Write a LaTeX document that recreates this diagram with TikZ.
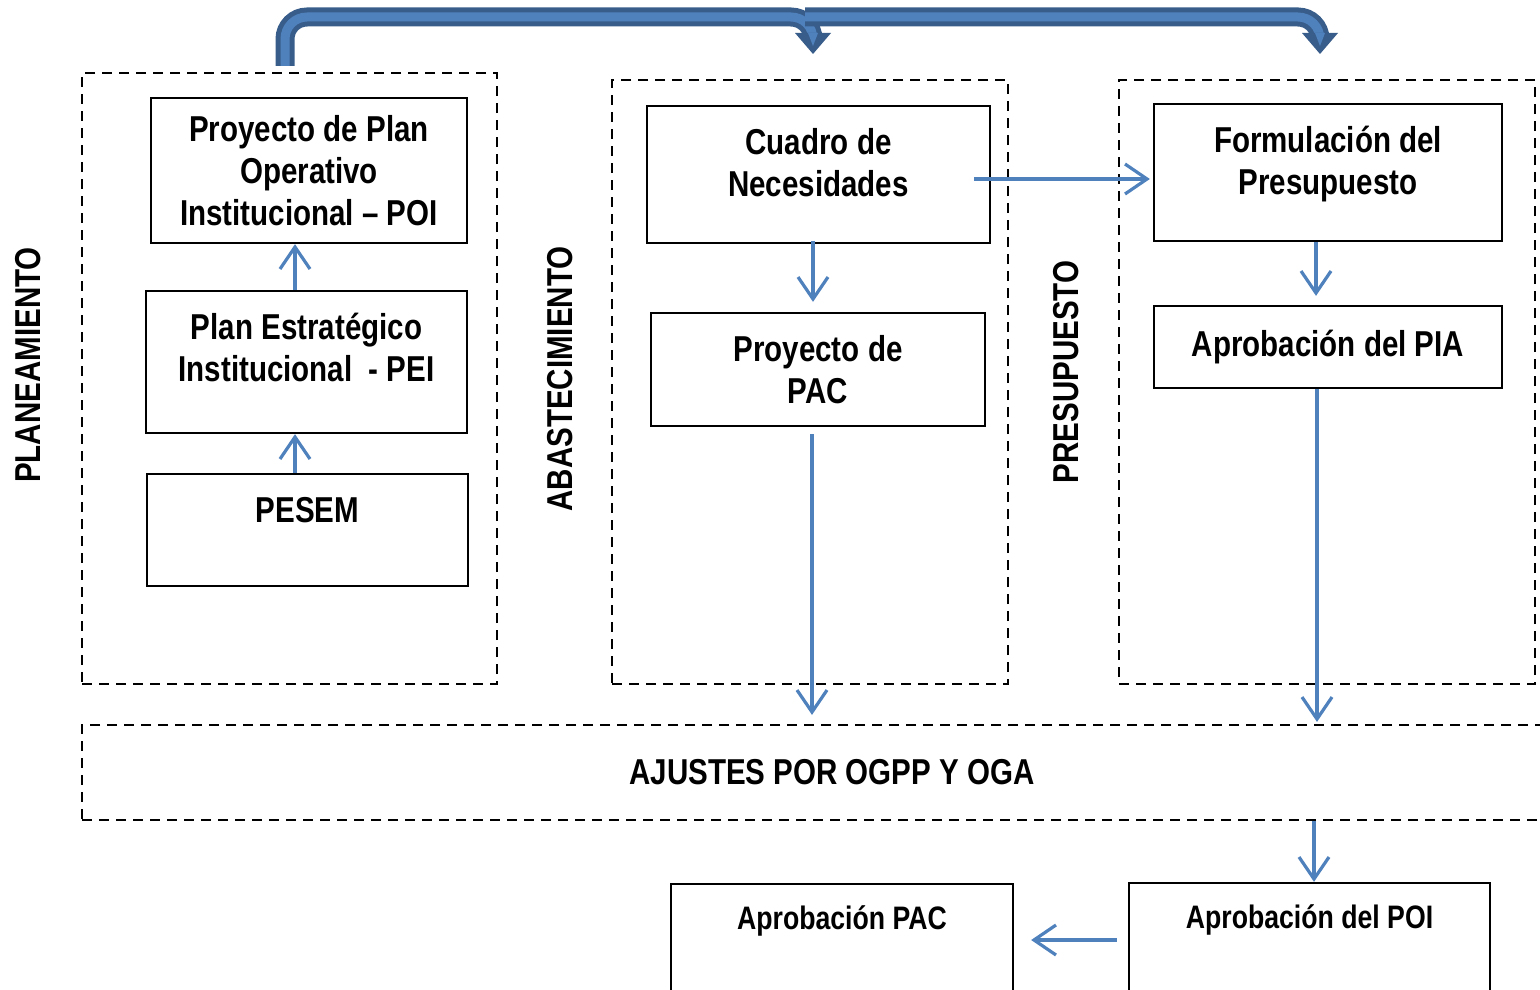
\documentclass[tikz,border=0pt]{standalone}
\usepackage{fontspec}
\setmainfont{Liberation Sans}[FakeStretch=0.82]
\usetikzlibrary{arrows.meta}
\definecolor{azul}{HTML}{4F81BD}
\definecolor{azuloscuro}{HTML}{385D8A}

\begin{document}
\begin{tikzpicture}[x=1pt, y=-1pt]
        \useasboundingbox (0,0) rectangle (1540,990);
        \clip (0,0) rectangle (1540,990);
        \begin{scope}[every node/.style={draw, line width=2.2pt, dash pattern=on 10pt off 7pt, inner sep=0, font=\bfseries\fontsize{36}{42}\selectfont}]
            \node [minimum width=415, minimum height=611] (plan) at (289.5,378.5) {};
            \node [minimum width=396, minimum height=604] (abas) at (810,382) {};
            \node [minimum width=416, minimum height=604] (pres) at (1327,382) {};
            \node [minimum width=1500, minimum height=95] (ajustes) at (832,772.5) {AJUSTES POR OGPP Y OGA};
        \end{scope}
        \begin{scope}[every node/.style={rotate=90, inner sep=0, font=\bfseries\fontsize{36}{42}\selectfont}]
            \node (lplan) at (28,365) {PLANEAMIENTO};
            \node (labas) at (560,379) {ABASTECIMIENTO};
            \node (lpres) at (1066,372) {PRESUPUESTO};
        \end{scope}
        \begin{scope}[every node/.style={draw, line width=2.3pt, align=center, inner sep=0, font=\bfseries\fontsize{36}{42}\selectfont}]
            \node [minimum width=316, minimum height=145] (poi) at (309,170.5) {Proyecto de Plan\\Operativo\\Institucional -- POI};
            \node [minimum width=321, minimum height=142] (pei) at (306.5,362) {Plan Estratégico\\Institucional\ \ - PEI\\[-12pt]~};
            \node [minimum width=321, minimum height=112] (pesem) at (307.5,530) {PESEM\\[-2pt]~};
            \node [minimum width=343, minimum height=137] (cuadro) at (818.5,174.5) {Cuadro de\\Necesidades\\[-17pt]~};
            \node [minimum width=334, minimum height=113] (pac) at (818,369.5) {Proyecto de\\PAC};
            \node [minimum width=348, minimum height=137] (formul) at (1328,172.5) {Formulación del\\Presupuesto\\[-17pt]~};
            \node [minimum width=348, minimum height=82] (pia) at (1328,347) {Aprobación del PIA};
            \node [minimum width=342, minimum height=126, font=\bfseries\fontsize{32.5}{38}\selectfont] (apac) at (842,947) {Aprobación PAC\\[20pt]~};
            \node [minimum width=361, minimum height=127, font=\bfseries\fontsize{32.5}{38}\selectfont] (apoi) at (1309.5,946.5) {Aprobación del POI\\[21pt]~};
        \end{scope}
        \begin{scope}[every path/.style={azul, line width=3.2pt, -{Straight Barb[length=22pt, width=30pt]}}]
            \path ([xshift=-12.5pt]pesem.north) edge ([xshift=-11.5pt]pei.south);
            \path ([xshift=-11.5pt]pei.north) edge ([xshift=-14pt]poi.south);
            \path ([xshift=-5.5pt, yshift=3pt]cuadro.south) edge [shorten >=10pt] ([xshift=-5pt]pac.north);
            \path ([xshift=-17pt, yshift=-4.5pt]cuadro.east) edge [shorten >=3pt] ([yshift=-6.5pt]formul.west);
            \path ([xshift=-12pt]formul.south) edge [shorten >=9pt] ([xshift=-12pt]pia.north);
            \path ([xshift=-6pt]pac.south) edge [shorten <=7pt, shorten >=9pt] ([xshift=-6pt]pac.south |- ajustes.north);
            \path ([xshift=-11pt]pia.south) edge [shorten >=2pt] ([xshift=-11pt]pia.south |- ajustes.north);
            \path ([xshift=4.5pt]apoi.north |- ajustes.south) edge ([xshift=4.5pt]apoi.north);
            \path ([yshift=6.5pt]apoi.west) edge [shorten <=11pt, shorten >=17pt] ([yshift=7pt]apac.east);
        \end{scope}
        % flecha superior
        \coordinate (salida) at (285,66);
        \coordinate (llegada1) at (813,38);
        \coordinate (llegada2) at (1320,38);
        \begin{scope}[every path/.style={draw=azuloscuro, line width=5pt, double=azul, double distance=9pt, rounded corners=22pt}]
            \path (salida) -- (285,17) -- (813,17) -- (llegada1);
            \path (805,17) -- (1320,17) -- (llegada2);
        \end{scope}
        \fill[azuloscuro] ([xshift=-18pt, yshift=5pt]llegada1) -- ([xshift=18pt, yshift=5pt]llegada1) -- ([yshift=-16pt]llegada1) -- cycle;
        \fill[azul] ([xshift=-5pt, yshift=5pt]llegada1) -- ([xshift=5pt, yshift=5pt]llegada1) -- ([yshift=-8pt]llegada1) -- cycle;
        \fill[azuloscuro] ([xshift=-18pt, yshift=5pt]llegada2) -- ([xshift=18pt, yshift=5pt]llegada2) -- ([yshift=-16pt]llegada2) -- cycle;
        \fill[azul] ([xshift=-5pt, yshift=5pt]llegada2) -- ([xshift=5pt, yshift=5pt]llegada2) -- ([yshift=-8pt]llegada2) -- cycle;
\end{tikzpicture}
\end{document}
